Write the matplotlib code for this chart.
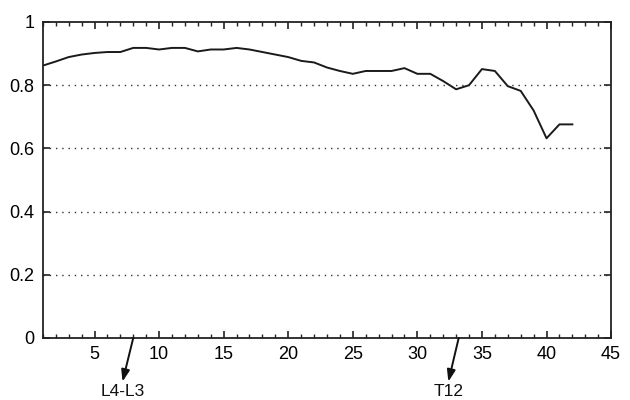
import matplotlib
matplotlib.use("Agg")
import matplotlib.pyplot as plt
from matplotlib.ticker import MultipleLocator
import matplotlib.font_manager as fm

x_vals = list(range(1, 43))
y_vals = [0.862, 0.875, 0.889, 0.897, 0.902, 0.905, 0.905, 0.918, 0.918, 0.913,
          0.918, 0.918, 0.907, 0.913, 0.913, 0.918, 0.913, 0.905, 0.897, 0.889,
          0.877, 0.872, 0.856, 0.845, 0.836, 0.845, 0.845, 0.845, 0.854, 0.836,
          0.836, 0.813, 0.787, 0.800, 0.851, 0.845, 0.797, 0.782, 0.720, 0.632,
          0.676, 0.676]
x_ticks = [5, 10, 15, 20, 25, 30, 35, 40, 45]
y_ticks = [0, 0.2, 0.4, 0.6, 0.8, 1]
y_tick_labels = ["0", "0.2", "0.4", "0.6", "0.8", "1"]
annotations = [("L4-L3", 8.0, 7.17), ("T12", 33.2, 32.4)]

names = {f.name for f in fm.fontManager.ttflist}
fam = "Liberation Sans Narrow" if "Liberation Sans Narrow" in names else "Liberation Sans"
plt.rcParams['font.family'] = [fam, 'DejaVu Sans']

fig = plt.figure(figsize=(6.3, 4.0), dpi=100)
ax = fig.add_axes([0.068, 0.155, 0.902, 0.79])
ax.plot(x_vals, y_vals, color='#1a1a1a', lw=1.4)
ax.set_xlim(1, 45)
ax.set_ylim(0, 1)
ax.set_xticks(x_ticks)
ax.xaxis.set_minor_locator(MultipleLocator(1))
ax.set_yticks(y_ticks)
ax.set_yticklabels(y_tick_labels)
for yv in y_ticks[1:-1]:
    ax.axhline(yv, color='#333333', lw=1.0, ls=(0, (1, 3.5)))
ax.tick_params(axis='both', which='major', direction='in', top=True, right=True,
               length=5, width=1.2, labelsize=13, color='#222222', pad=6)
ax.tick_params(axis='x', which='minor', direction='in', top=True, length=3, width=1.0, color='#222222')
for s in ax.spines.values():
    s.set_linewidth(1.3)
    s.set_color('#222222')

for label, xs, xt in annotations:
    ax.annotate('', xy=(xt, -0.138), xytext=(xs, 0), xycoords='data', textcoords='data',
                annotation_clip=False,
                arrowprops=dict(arrowstyle='-|>,head_length=0.7,head_width=0.25',
                                color='#111111', lw=1.4, shrinkA=0, shrinkB=0))
    ax.text(xt + 0.05, -0.168, label, ha='center', va='center', fontsize=12.5,
            color='#111111', clip_on=False)

fig.savefig("out.png", dpi=100)
